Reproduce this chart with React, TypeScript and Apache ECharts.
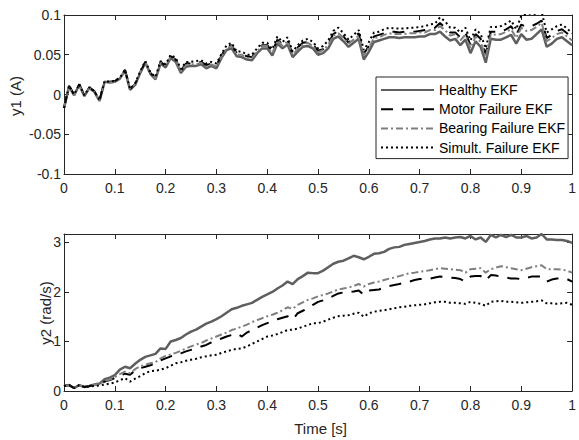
import React, { useEffect, useRef } from "react";
import * as echarts from "echarts";

const names = ["Healthy EKF", "Motor Failure EKF", "Bearing Failure EKF", "Simult. Failure EKF"];
const xTicks = [0, 0.1, 0.2, 0.3, 0.4, 0.5, 0.6, 0.7, 0.8, 0.9, 1];

// y1 (A)
const y1Healthy = [
  -0.017, 0.010, -0.001, 0.012, -0.002, 0.008, 0.003, -0.008, 0.016, 0.015,
  0.016, 0.020, 0.030, 0.006, 0.012, 0.027, 0.040, 0.026, 0.019, 0.039,
  0.034, 0.046, 0.041, 0.027, 0.035, 0.036, 0.036, 0.038, 0.033, 0.036,
  0.033, 0.046, 0.056, 0.058, 0.048, 0.047, 0.044, 0.043, 0.052, 0.058,
  0.058, 0.049, 0.064, 0.058, 0.063, 0.047, 0.054, 0.060, 0.061, 0.058,
  0.050, 0.052, 0.058, 0.070, 0.073, 0.067, 0.060, 0.065, 0.070, 0.044,
  0.054, 0.066, 0.068, 0.070, 0.072, 0.072, 0.071, 0.072, 0.072, 0.072,
  0.073, 0.073, 0.076, 0.076, 0.079, 0.073, 0.068, 0.070, 0.062, 0.069,
  0.052, 0.067, 0.060, 0.040, 0.070, 0.069, 0.069, 0.072, 0.075, 0.064,
  0.076, 0.069, 0.070, 0.076, 0.082, 0.060, 0.064, 0.070, 0.072, 0.067,
  0.062,
];
const y1Motor = [
  -0.017, 0.011, 0.000, 0.013, -0.001, 0.009, 0.004, -0.007, 0.017, 0.016,
  0.017, 0.021, 0.031, 0.007, 0.013, 0.028, 0.041, 0.027, 0.021, 0.041,
  0.036, 0.048, 0.044, 0.030, 0.039, 0.039, 0.040, 0.041, 0.037, 0.039,
  0.037, 0.049, 0.060, 0.062, 0.052, 0.051, 0.048, 0.047, 0.056, 0.062,
  0.062, 0.054, 0.069, 0.063, 0.068, 0.051, 0.059, 0.065, 0.066, 0.063,
  0.055, 0.057, 0.064, 0.076, 0.080, 0.073, 0.065, 0.071, 0.077, 0.051,
  0.061, 0.073, 0.075, 0.077, 0.079, 0.079, 0.078, 0.079, 0.079, 0.079,
  0.080, 0.081, 0.083, 0.084, 0.090, 0.084, 0.078, 0.078, 0.072, 0.078,
  0.062, 0.076, 0.070, 0.051, 0.079, 0.079, 0.079, 0.082, 0.086, 0.075,
  0.088, 0.085, 0.086, 0.089, 0.093, 0.071, 0.075, 0.080, 0.082, 0.077,
  0.071,
];
const y1Bearing = [
  -0.017, 0.010, -0.001, 0.012, -0.002, 0.008, 0.003, -0.008, 0.016, 0.015,
  0.016, 0.020, 0.030, 0.006, 0.013, 0.028, 0.041, 0.027, 0.020, 0.040,
  0.036, 0.048, 0.043, 0.029, 0.037, 0.038, 0.038, 0.040, 0.035, 0.038,
  0.035, 0.048, 0.058, 0.061, 0.050, 0.050, 0.046, 0.046, 0.054, 0.061,
  0.061, 0.052, 0.068, 0.061, 0.067, 0.050, 0.057, 0.063, 0.065, 0.061,
  0.053, 0.056, 0.062, 0.074, 0.077, 0.071, 0.064, 0.069, 0.074, 0.049,
  0.059, 0.071, 0.072, 0.075, 0.077, 0.076, 0.076, 0.076, 0.077, 0.077,
  0.078, 0.078, 0.081, 0.081, 0.086, 0.081, 0.074, 0.076, 0.068, 0.075,
  0.058, 0.073, 0.066, 0.047, 0.076, 0.075, 0.076, 0.079, 0.082, 0.071,
  0.084, 0.080, 0.081, 0.085, 0.090, 0.067, 0.071, 0.076, 0.078, 0.073,
  0.068,
];
const y1Simult = [
  -0.017, 0.011, 0.000, 0.013, -0.001, 0.009, 0.004, -0.007, 0.017, 0.016,
  0.017, 0.021, 0.031, 0.007, 0.014, 0.029, 0.042, 0.028, 0.022, 0.042,
  0.038, 0.050, 0.046, 0.032, 0.041, 0.041, 0.042, 0.043, 0.039, 0.041,
  0.039, 0.051, 0.062, 0.065, 0.054, 0.054, 0.050, 0.050, 0.058, 0.065,
  0.065, 0.057, 0.073, 0.066, 0.072, 0.054, 0.062, 0.068, 0.070, 0.066,
  0.058, 0.061, 0.068, 0.080, 0.084, 0.077, 0.069, 0.075, 0.081, 0.056,
  0.066, 0.078, 0.079, 0.082, 0.084, 0.083, 0.083, 0.083, 0.084, 0.084,
  0.085, 0.086, 0.088, 0.089, 0.097, 0.092, 0.084, 0.084, 0.078, 0.084,
  0.068, 0.082, 0.076, 0.058, 0.085, 0.085, 0.086, 0.089, 0.093, 0.082,
  0.099, 0.101, 0.102, 0.101, 0.104, 0.078, 0.082, 0.086, 0.088, 0.083,
  0.077,
];

// y2 (rad/s)
const y2Healthy = [
  0.10, 0.12, 0.06, 0.12, 0.08, 0.10, 0.13, 0.15, 0.24, 0.27,
  0.32, 0.43, 0.49, 0.46, 0.55, 0.63, 0.69, 0.72, 0.75, 0.86,
  0.85, 1.00, 1.03, 1.07, 1.14, 1.20, 1.24, 1.30, 1.36, 1.40,
  1.45, 1.51, 1.58, 1.65, 1.68, 1.72, 1.75, 1.78, 1.84, 1.90,
  1.95, 2.00, 2.07, 2.13, 2.21, 2.16, 2.26, 2.32, 2.39, 2.38,
  2.38, 2.43, 2.50, 2.57, 2.61, 2.63, 2.68, 2.73, 2.70, 2.66,
  2.71, 2.77, 2.78, 2.81, 2.87, 2.90, 2.91, 2.95, 2.97, 2.99,
  3.01, 3.03, 3.06, 3.08, 3.08, 3.10, 3.08, 3.10, 3.11, 3.08,
  3.13, 3.06, 3.10, 3.01, 3.15, 3.10, 3.15, 3.11, 3.15, 3.10,
  3.10, 3.13, 3.08, 3.10, 3.17, 3.06, 3.06, 3.05, 3.05, 3.03,
  2.99,
];
const y2Motor = [
  0.10, 0.12, 0.06, 0.12, 0.08, 0.10, 0.12, 0.13, 0.19, 0.22,
  0.26, 0.31, 0.35, 0.33, 0.41, 0.46, 0.49, 0.52, 0.56, 0.62,
  0.66, 0.70, 0.73, 0.76, 0.80, 0.83, 0.86, 0.90, 0.93, 0.98,
  1.03, 1.06, 1.10, 1.13, 1.16, 1.10, 1.18, 1.23, 1.28, 1.33,
  1.37, 1.41, 1.45, 1.48, 1.51, 1.44, 1.57, 1.62, 1.67, 1.74,
  1.80, 1.83, 1.87, 1.92, 1.97, 1.99, 2.00, 2.01, 2.03, 1.94,
  2.03, 2.04, 2.05, 2.09, 2.12, 2.14, 2.16, 2.19, 2.21, 2.24,
  2.26, 2.26, 2.27, 2.29, 2.31, 2.30, 2.29, 2.28, 2.26, 2.21,
  2.31, 2.32, 2.32, 2.23, 2.34, 2.33, 2.31, 2.29, 2.27, 2.27,
  2.26, 2.28, 2.31, 2.31, 2.31, 2.21, 2.25, 2.27, 2.27, 2.26,
  2.21,
];
const y2Bearing = [
  0.10, 0.12, 0.06, 0.12, 0.08, 0.10, 0.12, 0.14, 0.20, 0.23,
  0.28, 0.34, 0.39, 0.36, 0.44, 0.50, 0.53, 0.56, 0.58, 0.66,
  0.71, 0.74, 0.77, 0.81, 0.86, 0.90, 0.94, 0.97, 1.02, 1.06,
  1.10, 1.14, 1.18, 1.23, 1.26, 1.30, 1.34, 1.39, 1.43, 1.47,
  1.51, 1.54, 1.58, 1.63, 1.69, 1.66, 1.74, 1.79, 1.84, 1.87,
  1.91, 1.94, 1.97, 2.01, 2.05, 2.07, 2.09, 2.12, 2.16, 2.11,
  2.16, 2.19, 2.21, 2.24, 2.27, 2.29, 2.32, 2.35, 2.38, 2.39,
  2.41, 2.42, 2.44, 2.46, 2.48, 2.47, 2.46, 2.45, 2.44, 2.39,
  2.46, 2.47, 2.48, 2.39, 2.46, 2.49, 2.52, 2.50, 2.48, 2.46,
  2.44, 2.47, 2.50, 2.52, 2.54, 2.46, 2.46, 2.46, 2.45, 2.43,
  2.39,
];
const y2Simult = [
  0.10, 0.12, 0.06, 0.12, 0.08, 0.09, 0.10, 0.11, 0.13, 0.15,
  0.17, 0.22, 0.26, 0.19, 0.25, 0.30, 0.36, 0.40, 0.41, 0.43,
  0.46, 0.51, 0.56, 0.58, 0.61, 0.63, 0.65, 0.68, 0.70, 0.72,
  0.73, 0.77, 0.80, 0.83, 0.85, 0.86, 0.90, 0.95, 1.00, 1.05,
  1.10, 1.12, 1.15, 1.19, 1.23, 1.24, 1.26, 1.30, 1.33, 1.37,
  1.37, 1.40, 1.44, 1.48, 1.51, 1.52, 1.53, 1.56, 1.58, 1.50,
  1.57, 1.60, 1.62, 1.63, 1.65, 1.67, 1.69, 1.70, 1.72, 1.73,
  1.74, 1.75, 1.77, 1.79, 1.80, 1.80, 1.78, 1.78, 1.77, 1.76,
  1.80, 1.78, 1.76, 1.72, 1.80, 1.81, 1.82, 1.80, 1.80, 1.79,
  1.78, 1.79, 1.80, 1.81, 1.83, 1.77, 1.77, 1.76, 1.77, 1.78,
  1.74,
];

const FONT = "'Liberation Sans', Arial, Helvetica, sans-serif";
const AX = "#262626";

const pairs = (ys: number[]) => ys.map((v, i) => [i / (ys.length - 1), v]);

const styles = [
  { color: "#5f5f5f", width: 2.5, type: "solid" as any },
  { color: "#000000", width: 2, type: [12, 9] as any },
  { color: "#7f7f7f", width: 2, type: [7, 3, 2, 3] as any },
  { color: "#000000", width: 2, type: [2, 3] as any },
];

export default function App() {
  const ref = useRef<HTMLDivElement>(null);
  useEffect(() => {
    document.body.style.margin = "0";
    if (!ref.current) return;
    const chart = echarts.init(ref.current, undefined, { renderer: "svg" });
    const grids = [
      { left: 64, top: 15, width: 513, height: 159 },
      { left: 64, top: 234, width: 513, height: 157 },
    ];
    const xAx = (gi: number, pos: "bottom" | "top") => ({
      type: "value",
      gridIndex: gi,
      position: pos,
      min: 0,
      max: 1,
      interval: 0.1,
      axisLine: { show: true, onZero: false, lineStyle: { color: AX, width: 1 } },
      axisTick: { show: true, inside: true, length: 5, lineStyle: { color: AX } },
      axisLabel: {
        show: pos === "bottom",
        margin: 7,
        fontSize: 14,
        fontFamily: FONT,
        color: AX,
        formatter: (v: number) => String(Number(v.toFixed(1))),
      },
      splitLine: { show: false },
    });
    const yAx = (gi: number, pos: "left" | "right", min: number, max: number, interval: number) => ({
      type: "value",
      gridIndex: gi,
      position: pos,
      min,
      max,
      interval,
      axisLine: { show: true, onZero: false, lineStyle: { color: AX, width: 1 } },
      axisTick: { show: true, inside: true, length: 5, lineStyle: { color: AX } },
      axisLabel: {
        show: pos === "left",
        margin: 3,
        fontSize: 14,
        fontFamily: FONT,
        color: AX,
        formatter: (v: number) => {
          const r = Math.round(v / interval) * interval;
          if (Math.abs(r - v) > 1e-6) return "";
          return String(Number(v.toFixed(2)));
        },
      },
      splitLine: { show: false },
    });
    const top = [y1Healthy, y1Motor, y1Bearing, y1Simult];
    const bot = [y2Healthy, y2Motor, y2Bearing, y2Simult];
    const series: any[] = [];
    top.forEach((d, k) =>
      series.push({
        type: "line",
        name: names[k],
        xAxisIndex: 0,
        yAxisIndex: 0,
        data: pairs(d),
        symbol: "none",
        clip: true,
        lineStyle: { ...styles[k] },
        itemStyle: { color: styles[k].color },
      })
    );
    bot.forEach((d, k) =>
      series.push({
        type: "line",
        name: names[k],
        xAxisIndex: 2,
        yAxisIndex: 2,
        data: pairs(d),
        symbol: "none",
        clip: true,
        lineStyle: { ...styles[k] },
        itemStyle: { color: styles[k].color },
      })
    );
    chart.setOption({
      animation: false,
      backgroundColor: "#ffffff",
      grid: grids,
      xAxis: [xAx(0, "bottom"), xAx(0, "top"), xAx(1, "bottom"), xAx(1, "top")],
      yAxis: [
        yAx(0, "left", -0.1, 0.1, 0.05),
        yAx(0, "right", -0.1, 0.1, 0.05),
        yAx(1, "left", 0, 3.17, 1),
        yAx(1, "right", 0, 3.17, 1),
      ],
      legend: {
        orient: "vertical",
        left: 376,
        top: 77,
        itemWidth: 53,
        itemHeight: 14,
        itemGap: 5.2,
        padding: [6, 3, 4, 4],
        borderColor: AX,
        borderWidth: 1,
        backgroundColor: "#ffffff",
        selectedMode: false,
        itemStyle: { opacity: 0 },
        textStyle: { fontSize: 14, fontFamily: FONT, color: "#000" },
        data: names,
      },
      graphic: [
        {
          type: "text",
          x: 15,
          y: 96,
          rotation: Math.PI / 2,
          style: { text: "y1 (A)", fontSize: 15, fontFamily: FONT, fill: AX, textAlign: "center", textVerticalAlign: "middle" },
        },
        {
          type: "text",
          x: 45,
          y: 313,
          rotation: Math.PI / 2,
          style: { text: "y2 (rad/s)", fontSize: 15, fontFamily: FONT, fill: AX, textAlign: "center", textVerticalAlign: "middle" },
        },
        {
          type: "text",
          x: 320.6,
          y: 428,
          style: { text: "Time [s]", fontSize: 15, fontFamily: FONT, fill: AX, textAlign: "center", textVerticalAlign: "middle" },
        },
      ],
      series,
    });
    return () => chart.dispose();
  }, []);
  return <div ref={ref} style={{ width: 579, height: 440 }} />;
}
